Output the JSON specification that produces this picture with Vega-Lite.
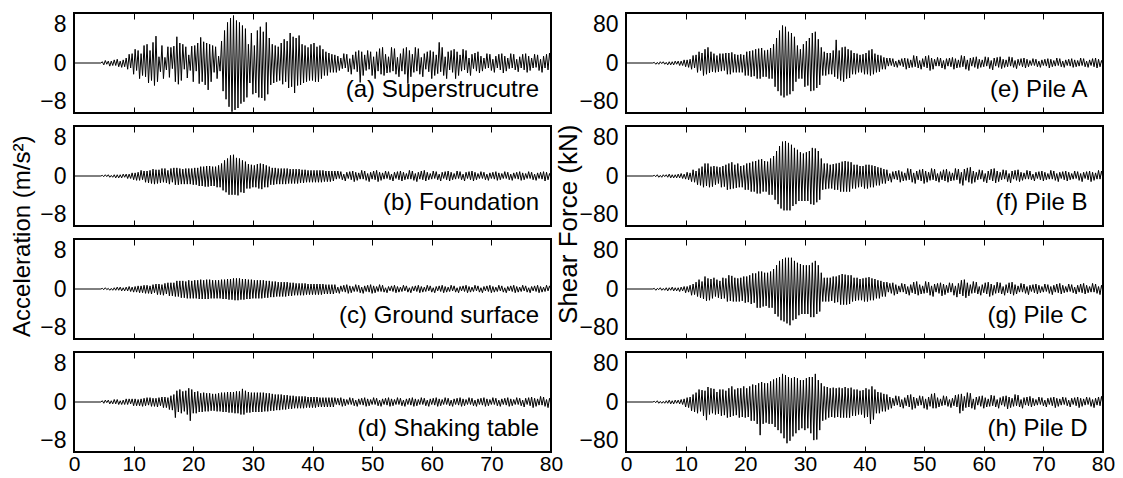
{
"$schema":"https://vega.github.io/schema/vega-lite/v6.json",
"background":"white",
"padding":{"left":10,"top":11,"right":5,"bottom":3},
"config":{
 "font":"Liberation Sans",
 "view":{"stroke":"black","strokeWidth":2},
 "axis":{"domain":false,"grid":false,"labelFont":"Liberation Sans","labelColor":"black","tickColor":"black","tickWidth":1},
 "axisX":{"tickSize":-6,"labelPadding":7,"labelFlush":false,"labelFontSize":21},
 "axisY":{"ticks":false,"labelPadding":8,"labelFlush":true,"labelFontSize":23,"minExtent":35,"maxExtent":35},
 "title":{"font":"Liberation Sans","fontSize":24,"fontWeight":"normal","color":"black"}
},
"datasets":{"sig":[
{"t":0,"a":0,"b":0,"c":0,"d":0,"e":0,"f":0,"g":0,"h":0},
{"t":4.5,"a":0,"b":0,"c":0,"d":0,"e":0,"f":0,"g":0,"h":0},
{"t":4.75,"a":0.2,"b":0.1,"c":0.1,"d":0.2,"e":1,"f":1,"g":1,"h":1},
{"t":5,"a":-0.3,"b":-0.1,"c":-0.1,"d":-0.2,"e":-2,"f":-1,"g":-2,"h":-1},
{"t":5.25,"a":0.4,"b":0.2,"c":0.2,"d":0.3,"e":1,"f":2,"g":1,"h":2},
{"t":5.5,"a":-0.2,"b":-0.1,"c":-0.1,"d":-0.1,"e":-2,"f":-2,"g":-1,"h":-2},
{"t":5.75,"a":0.3,"b":0.2,"c":0.1,"d":0.3,"e":2,"f":1,"g":2,"h":1},
{"t":6,"a":-0.5,"b":-0.2,"c":-0.2,"d":-0.3,"e":-1,"f":-2,"g":-2,"h":-2},
{"t":6.25,"a":0.3,"b":0.1,"c":0.1,"d":0.2,"e":2,"f":2,"g":1,"h":1},
{"t":6.5,"a":-0.4,"b":-0.2,"c":-0.2,"d":-0.3,"e":-2,"f":-1,"g":-2,"h":-2},
{"t":6.75,"a":0.5,"b":0.2,"c":0.2,"d":0.4,"e":1,"f":2,"g":2,"h":2},
{"t":7,"a":-0.4,"b":-0.3,"c":-0.2,"d":-0.3,"e":-3,"f":-2,"g":-3,"h":-2},
{"t":7.25,"a":0.6,"b":0.2,"c":0.3,"d":0.4,"e":2,"f":3,"g":2,"h":3},
{"t":7.5,"a":-0.6,"b":-0.3,"c":-0.2,"d":-0.4,"e":-3,"f":-3,"g":-2,"h":-3},
{"t":7.75,"a":0.3,"b":0.2,"c":0.3,"d":0.2,"e":2,"f":2,"g":3,"h":2},
{"t":8,"a":-0.7,"b":-0.3,"c":-0.3,"d":-0.4,"e":-3,"f":-3,"g":-3,"h":-3},
{"t":8.25,"a":0.5,"b":0.3,"c":0.2,"d":0.3,"e":3,"f":2,"g":2,"h":3},
{"t":8.5,"a":-0.6,"b":-0.2,"c":-0.3,"d":-0.4,"e":-2,"f":-3,"g":-3,"h":-2},
{"t":8.75,"a":0.8,"b":0.3,"c":0.3,"d":0.5,"e":3,"f":3,"g":2,"h":3},
{"t":9,"a":-1.0,"b":-0.4,"c":-0.3,"d":-0.4,"e":-4,"f":-3,"g":-4,"h":-3},
{"t":9.25,"a":1.4,"b":0.3,"c":0.4,"d":0.5,"e":3,"f":4,"g":3,"h":4},
{"t":9.5,"a":-0.8,"b":-0.4,"c":-0.4,"d":-0.3,"e":-4,"f":-4,"g":-3,"h":-4},
{"t":9.75,"a":1.5,"b":0.5,"c":0.3,"d":0.5,"e":5,"f":3,"g":4,"h":5},
{"t":10,"a":-1.8,"b":-0.6,"c":-0.5,"d":-0.6,"e":-6,"f":-5,"g":-6,"h":-8},
{"t":10.25,"a":2.2,"b":0.5,"c":0.4,"d":0.5,"e":5,"f":6,"g":4,"h":7},
{"t":10.5,"a":-1.2,"b":-0.7,"c":-0.5,"d":-0.6,"e":-7,"f":-6,"g":-5,"h":-9},
{"t":10.75,"a":2.0,"b":0.6,"c":0.5,"d":0.4,"e":6,"f":5,"g":6,"h":8},
{"t":11,"a":-2.5,"b":-0.7,"c":-0.6,"d":-0.6,"e":-10,"f":-9,"g":-10,"h":-14},
{"t":11.25,"a":1.5,"b":0.9,"c":0.5,"d":0.5,"e":12,"f":10,"g":8,"h":12},
{"t":11.5,"a":-2.0,"b":-0.6,"c":-0.6,"d":-0.7,"e":-8,"f":-10,"g":-9,"h":-16},
{"t":11.75,"a":2.8,"b":0.8,"c":0.6,"d":0.6,"e":13,"f":8,"g":11,"h":15},
{"t":12,"a":-2.2,"b":-1.0,"c":-0.7,"d":-0.6,"e":-15,"f":-14,"g":-12,"h":-18},
{"t":12.25,"a":3.0,"b":0.8,"c":0.6,"d":0.7,"e":18,"f":12,"g":15,"h":20},
{"t":12.5,"a":-3.2,"b":-1.1,"c":-0.7,"d":-0.5,"e":-12,"f":-15,"g":-14,"h":-15},
{"t":12.75,"a":2.0,"b":0.9,"c":0.5,"d":0.7,"e":16,"f":15,"g":12,"h":19},
{"t":13,"a":-2.8,"b":-1.2,"c":-0.8,"d":-0.7,"e":-20,"f":-18,"g":-16,"h":-22},
{"t":13.25,"a":3.3,"b":1.1,"c":0.7,"d":0.6,"e":22,"f":20,"g":20,"h":18},
{"t":13.5,"a":-3.6,"b":-1.3,"c":-0.6,"d":-0.7,"e":-18,"f":-16,"g":-19,"h":-29},
{"t":13.75,"a":4.3,"b":1.0,"c":0.8,"d":0.6,"e":25,"f":20,"g":17,"h":24},
{"t":14,"a":-3.0,"b":-1.2,"c":-0.9,"d":-0.8,"e":-16,"f":-18,"g":-18,"h":-20},
{"t":14.25,"a":1.0,"b":1.0,"c":0.8,"d":0.7,"e":18,"f":15,"g":16,"h":22},
{"t":14.5,"a":-1.4,"b":-1.1,"c":-0.9,"d":-0.6,"e":-14,"f":-17,"g":-15,"h":-18},
{"t":14.75,"a":2.8,"b":1.2,"c":0.7,"d":0.8,"e":15,"f":16,"g":18,"h":21},
{"t":15,"a":-2.5,"b":-1.0,"c":-1.0,"d":-0.9,"e":-15,"f":-14,"g":-12,"h":-20},
{"t":15.25,"a":0.9,"b":1.2,"c":0.9,"d":0.8,"e":12,"f":15,"g":15,"h":16},
{"t":15.5,"a":-1.1,"b":-1.1,"c":-0.8,"d":-0.9,"e":-14,"f":-12,"g":-14,"h":-19},
{"t":15.75,"a":2.6,"b":0.9,"c":1.0,"d":0.7,"e":15,"f":14,"g":13,"h":20},
{"t":16,"a":-2.3,"b":-1.3,"c":-1.1,"d":-1.2,"e":-13,"f":-18,"g":-16,"h":-22},
{"t":16.25,"a":2.5,"b":1.2,"c":1.0,"d":1.0,"e":15,"f":16,"g":18,"h":20},
{"t":16.5,"a":-0.9,"b":-1.0,"c":-1.1,"d":-1.3,"e":-12,"f":-17,"g":-15,"h":-21},
{"t":16.75,"a":2.7,"b":1.3,"c":1.0,"d":1.2,"e":16,"f":18,"g":17,"h":18},
{"t":17,"a":-3.0,"b":-1.4,"c":-1.2,"d":-2.5,"e":-18,"f":-22,"g":-20,"h":-25},
{"t":17.25,"a":4.2,"b":1.3,"c":1.3,"d":1.8,"e":16,"f":20,"g":22,"h":22},
{"t":17.5,"a":-3.4,"b":-1.4,"c":-1.2,"d":-1.6,"e":-18,"f":-21,"g":-19,"h":-24},
{"t":17.75,"a":3.2,"b":1.2,"c":1.3,"d":2.0,"e":17,"f":22,"g":21,"h":25},
{"t":18,"a":-2.8,"b":-1.3,"c":-1.4,"d":-1.8,"e":-15,"f":-20,"g":-20,"h":-22},
{"t":18.25,"a":3.0,"b":1.1,"c":1.3,"d":1.7,"e":14,"f":18,"g":18,"h":20},
{"t":18.5,"a":-1.0,"b":-1.3,"c":-1.4,"d":-1.5,"e":-15,"f":-19,"g":-20,"h":-21},
{"t":18.75,"a":2.6,"b":1.2,"c":1.2,"d":1.8,"e":13,"f":20,"g":17,"h":22},
{"t":19,"a":-2.4,"b":-1.3,"c":-1.5,"d":-2.0,"e":-15,"f":-18,"g":-20,"h":-25},
{"t":19.25,"a":1.3,"b":1.2,"c":1.4,"d":2.2,"e":14,"f":16,"g":18,"h":22},
{"t":19.5,"a":-1.2,"b":-1.3,"c":-1.5,"d":-3.0,"e":-15,"f":-18,"g":-19,"h":-24},
{"t":19.75,"a":2.7,"b":1.2,"c":1.3,"d":2.0,"e":13,"f":17,"g":20,"h":25},
{"t":20,"a":-3.0,"b":-1.4,"c":-1.5,"d":-1.8,"e":-20,"f":-22,"g":-22,"h":-25},
{"t":20.25,"a":2.8,"b":1.3,"c":1.4,"d":1.6,"e":18,"f":20,"g":20,"h":22},
{"t":20.5,"a":-1.3,"b":-1.4,"c":-1.5,"d":-1.8,"e":-20,"f":-22,"g":-21,"h":-24},
{"t":20.75,"a":3.2,"b":1.3,"c":1.4,"d":1.7,"e":19,"f":21,"g":22,"h":25},
{"t":21,"a":-3.3,"b":-1.6,"c":-1.6,"d":-1.6,"e":-22,"f":-25,"g":-24,"h":-30},
{"t":21.25,"a":4.1,"b":1.5,"c":1.5,"d":1.4,"e":20,"f":23,"g":25,"h":28},
{"t":21.5,"a":-3.0,"b":-1.6,"c":-1.6,"d":-1.6,"e":-21,"f":-25,"g":-22,"h":-30},
{"t":21.75,"a":3.4,"b":1.5,"c":1.4,"d":1.5,"e":22,"f":24,"g":25,"h":27},
{"t":22,"a":-3.5,"b":-1.7,"c":-1.6,"d":-1.5,"e":-25,"f":-28,"g":-30,"h":-35},
{"t":22.25,"a":3.2,"b":1.6,"c":1.5,"d":1.4,"e":23,"f":26,"g":28,"h":30},
{"t":22.5,"a":-4.3,"b":-1.7,"c":-1.6,"d":-1.5,"e":-25,"f":-28,"g":-30,"h":-53},
{"t":22.75,"a":3.0,"b":1.6,"c":1.5,"d":1.4,"e":24,"f":27,"g":28,"h":32},
{"t":23,"a":-3.0,"b":-1.6,"c":-1.5,"d":-1.4,"e":-22,"f":-25,"g":-28,"h":-35},
{"t":23.25,"a":2.8,"b":1.5,"c":1.4,"d":1.3,"e":20,"f":24,"g":26,"h":30},
{"t":23.5,"a":-1.5,"b":-1.6,"c":-1.5,"d":-1.4,"e":-22,"f":-25,"g":-27,"h":-33},
{"t":23.75,"a":2.6,"b":1.5,"c":1.4,"d":1.3,"e":21,"f":23,"g":26,"h":30},
{"t":24,"a":-2.5,"b":-1.8,"c":-1.5,"d":-1.5,"e":-25,"f":-30,"g":-30,"h":-35},
{"t":24.25,"a":1.1,"b":1.7,"c":1.4,"d":1.4,"e":24,"f":28,"g":28,"h":33},
{"t":24.5,"a":-1.3,"b":-1.8,"c":-1.5,"d":-1.5,"e":-25,"f":-30,"g":-30,"h":-35},
{"t":24.75,"a":3.5,"b":2.0,"c":1.5,"d":1.5,"e":30,"f":32,"g":32,"h":36},
{"t":25,"a":-4.5,"b":-2.3,"c":-1.6,"d":-1.6,"e":-38,"f":-38,"g":-40,"h":-40},
{"t":25.25,"a":5.2,"b":2.5,"c":1.5,"d":1.5,"e":40,"f":40,"g":38,"h":38},
{"t":25.5,"a":-5.8,"b":-2.6,"c":-1.6,"d":-1.6,"e":-45,"f":-45,"g":-44,"h":-45},
{"t":25.75,"a":6.5,"b":2.8,"c":1.6,"d":1.6,"e":52,"f":48,"g":45,"h":40},
{"t":26,"a":-7.0,"b":-3.0,"c":-1.7,"d":-1.7,"e":-52,"f":-52,"g":-50,"h":-50},
{"t":26.25,"a":7.2,"b":3.3,"c":1.6,"d":1.6,"e":60,"f":55,"g":48,"h":45},
{"t":26.5,"a":-7.8,"b":-3.0,"c":-1.7,"d":-1.7,"e":-55,"f":-55,"g":-52,"h":-58},
{"t":26.75,"a":7.6,"b":3.4,"c":1.7,"d":1.6,"e":58,"f":56,"g":50,"h":43},
{"t":27,"a":-7.5,"b":-3.0,"c":-1.8,"d":-1.8,"e":-52,"f":-55,"g":-55,"h":-66},
{"t":27.25,"a":6.8,"b":2.9,"c":1.7,"d":1.7,"e":50,"f":53,"g":50,"h":40},
{"t":27.5,"a":-7.2,"b":-3.1,"c":-1.8,"d":-1.8,"e":-50,"f":-55,"g":-58,"h":-62},
{"t":27.75,"a":6.5,"b":2.8,"c":1.7,"d":1.7,"e":48,"f":50,"g":50,"h":38},
{"t":28,"a":-6.5,"b":-2.6,"c":-1.7,"d":-2.0,"e":-45,"f":-48,"g":-50,"h":-55},
{"t":28.25,"a":6.0,"b":2.5,"c":1.6,"d":2.1,"e":42,"f":45,"g":45,"h":40},
{"t":28.5,"a":-6.2,"b":-2.7,"c":-1.7,"d":-2.0,"e":-30,"f":-45,"g":-48,"h":-50},
{"t":28.75,"a":5.5,"b":2.3,"c":1.6,"d":1.8,"e":28,"f":42,"g":42,"h":38},
{"t":29,"a":-5.5,"b":-2.0,"c":-1.6,"d":-1.7,"e":-25,"f":-40,"g":-42,"h":-45},
{"t":29.25,"a":3.0,"b":1.9,"c":1.5,"d":1.6,"e":22,"f":38,"g":40,"h":35},
{"t":29.5,"a":-3.2,"b":-2.0,"c":-1.6,"d":-1.7,"e":-25,"f":-40,"g":-40,"h":-42},
{"t":29.75,"a":4.8,"b":1.8,"c":1.5,"d":1.5,"e":30,"f":36,"g":38,"h":35},
{"t":30,"a":-5.0,"b":-1.8,"c":-1.5,"d":-1.6,"e":-38,"f":-40,"g":-40,"h":-45},
{"t":30.25,"a":2.8,"b":1.7,"c":1.4,"d":1.5,"e":35,"f":38,"g":38,"h":38},
{"t":30.5,"a":-4.8,"b":-1.8,"c":-1.5,"d":-1.6,"e":-36,"f":-40,"g":-40,"h":-42},
{"t":30.75,"a":5.2,"b":1.9,"c":1.4,"d":1.5,"e":40,"f":40,"g":38,"h":40},
{"t":31,"a":-5.5,"b":-2.0,"c":-1.5,"d":-1.6,"e":-45,"f":-45,"g":-45,"h":-50},
{"t":31.25,"a":5.8,"b":2.0,"c":1.4,"d":1.5,"e":48,"f":45,"g":42,"h":40},
{"t":31.5,"a":-5.6,"b":-2.1,"c":-1.5,"d":-1.6,"e":-44,"f":-46,"g":-45,"h":-61},
{"t":31.75,"a":5.0,"b":1.9,"c":1.4,"d":1.5,"e":50,"f":44,"g":45,"h":45},
{"t":32,"a":-6.0,"b":-1.8,"c":-1.4,"d":-1.5,"e":-40,"f":-42,"g":-40,"h":-60},
{"t":32.25,"a":6.5,"b":1.7,"c":1.3,"d":1.4,"e":38,"f":40,"g":38,"h":35},
{"t":32.5,"a":-5.0,"b":-1.8,"c":-1.4,"d":-1.5,"e":-35,"f":-38,"g":-36,"h":-45},
{"t":32.75,"a":4.0,"b":1.5,"c":1.3,"d":1.4,"e":25,"f":28,"g":26,"h":30},
{"t":33,"a":-3.5,"b":-1.4,"c":-1.3,"d":-1.4,"e":-20,"f":-22,"g":-20,"h":-30},
{"t":33.25,"a":3.0,"b":1.3,"c":1.2,"d":1.3,"e":18,"f":20,"g":18,"h":25},
{"t":33.5,"a":-3.2,"b":-1.4,"c":-1.3,"d":-1.4,"e":-20,"f":-21,"g":-20,"h":-28},
{"t":33.75,"a":2.8,"b":1.3,"c":1.2,"d":1.2,"e":16,"f":20,"g":18,"h":24},
{"t":34,"a":-3.0,"b":-1.3,"c":-1.2,"d":-1.3,"e":-18,"f":-20,"g":-20,"h":-25},
{"t":34.25,"a":2.6,"b":1.2,"c":1.1,"d":1.2,"e":16,"f":18,"g":18,"h":22},
{"t":34.5,"a":-2.8,"b":-1.3,"c":-1.2,"d":-1.3,"e":-18,"f":-20,"g":-19,"h":-24},
{"t":34.75,"a":3.2,"b":1.2,"c":1.1,"d":1.2,"e":20,"f":19,"g":20,"h":23},
{"t":35,"a":-3.4,"b":-1.3,"c":-1.2,"d":-1.2,"e":-22,"f":-22,"g":-22,"h":-25},
{"t":35.25,"a":3.8,"b":1.2,"c":1.1,"d":1.1,"e":37,"f":20,"g":20,"h":22},
{"t":35.5,"a":-3.0,"b":-1.3,"c":-1.2,"d":-1.2,"e":-25,"f":-22,"g":-21,"h":-24},
{"t":35.75,"a":3.5,"b":1.2,"c":1.1,"d":1.1,"e":20,"f":21,"g":22,"h":23},
{"t":36,"a":-4.0,"b":-1.2,"c":-1.1,"d":-1.1,"e":-28,"f":-25,"g":-25,"h":-25},
{"t":36.25,"a":4.8,"b":1.1,"c":1.0,"d":1.0,"e":25,"f":23,"g":24,"h":22},
{"t":36.5,"a":-3.8,"b":-1.2,"c":-1.1,"d":-1.1,"e":-30,"f":-25,"g":-25,"h":-25},
{"t":36.75,"a":4.2,"b":1.1,"c":1.0,"d":1.0,"e":26,"f":24,"g":23,"h":24},
{"t":37,"a":-4.8,"b":-1.2,"c":-1.0,"d":-1.0,"e":-25,"f":-25,"g":-25,"h":-25},
{"t":37.25,"a":4.0,"b":1.1,"c":0.9,"d":0.9,"e":22,"f":23,"g":22,"h":22},
{"t":37.5,"a":-3.6,"b":-1.2,"c":-1.0,"d":-1.0,"e":-24,"f":-25,"g":-24,"h":-25},
{"t":37.75,"a":4.4,"b":1.1,"c":0.9,"d":0.9,"e":20,"f":22,"g":22,"h":23},
{"t":38,"a":-3.5,"b":-1.1,"c":-1.0,"d":-1.0,"e":-18,"f":-20,"g":-20,"h":-22},
{"t":38.25,"a":3.0,"b":1.0,"c":0.9,"d":0.9,"e":16,"f":18,"g":18,"h":20},
{"t":38.5,"a":-3.2,"b":-1.1,"c":-1.0,"d":-1.0,"e":-18,"f":-20,"g":-19,"h":-22},
{"t":38.75,"a":2.8,"b":1.0,"c":0.9,"d":0.9,"e":15,"f":18,"g":18,"h":20},
{"t":39,"a":-3.0,"b":-1.0,"c":-0.9,"d":-0.9,"e":-15,"f":-18,"g":-18,"h":-20},
{"t":39.25,"a":2.5,"b":0.9,"c":0.8,"d":0.8,"e":13,"f":16,"g":16,"h":18},
{"t":39.5,"a":-2.8,"b":-1.0,"c":-0.9,"d":-0.9,"e":-15,"f":-17,"g":-18,"h":-20},
{"t":39.75,"a":3.0,"b":0.9,"c":0.8,"d":0.8,"e":14,"f":16,"g":17,"h":19},
{"t":40,"a":-2.8,"b":-1.0,"c":-0.9,"d":-0.9,"e":-18,"f":-20,"g":-20,"h":-25},
{"t":40.25,"a":3.2,"b":0.9,"c":0.8,"d":0.8,"e":16,"f":18,"g":18,"h":22},
{"t":40.5,"a":-3.0,"b":-1.0,"c":-0.9,"d":-0.9,"e":-18,"f":-20,"g":-20,"h":-24},
{"t":40.75,"a":2.6,"b":0.9,"c":0.8,"d":0.8,"e":20,"f":18,"g":19,"h":20},
{"t":41,"a":-3.0,"b":-1.0,"c":-0.9,"d":-0.8,"e":-20,"f":-18,"g":-18,"h":-35},
{"t":41.25,"a":2.8,"b":0.9,"c":0.8,"d":0.7,"e":22,"f":17,"g":17,"h":25},
{"t":41.5,"a":-2.5,"b":-1.0,"c":-0.9,"d":-0.8,"e":-18,"f":-18,"g":-18,"h":-28},
{"t":41.75,"a":2.2,"b":0.9,"c":0.8,"d":0.7,"e":15,"f":16,"g":16,"h":20},
{"t":42,"a":-2.0,"b":-0.9,"c":-0.8,"d":-0.8,"e":-15,"f":-15,"g":-15,"h":-18},
{"t":42.25,"a":1.8,"b":0.8,"c":0.7,"d":0.7,"e":13,"f":14,"g":14,"h":16},
{"t":42.5,"a":-2.0,"b":-0.9,"c":-0.8,"d":-0.8,"e":-14,"f":-15,"g":-15,"h":-18},
{"t":42.75,"a":1.6,"b":0.8,"c":0.7,"d":0.7,"e":12,"f":13,"g":13,"h":15},
{"t":43,"a":-1.5,"b":-0.9,"c":-0.8,"d":-0.8,"e":-10,"f":-12,"g":-12,"h":-15},
{"t":43.25,"a":1.4,"b":0.8,"c":0.7,"d":0.7,"e":9,"f":11,"g":11,"h":13},
{"t":43.5,"a":-1.5,"b":-0.8,"c":-0.8,"d":-0.8,"e":-10,"f":-12,"g":-12,"h":-15},
{"t":43.75,"a":1.3,"b":0.8,"c":0.7,"d":0.7,"e":8,"f":10,"g":11,"h":12},
{"t":44,"a":-1.5,"b":-0.5,"c":-0.6,"d":-0.4,"e":-5,"f":-8,"g":-5,"h":-12},
{"t":44.25,"a":1.1,"b":0.8,"c":0.3,"d":0.6,"e":8,"f":4,"g":9,"h":8},
{"t":44.5,"a":-1.2,"b":-0.4,"c":-0.7,"d":-0.5,"e":-4,"f":-10,"g":-7,"h":-10},
{"t":44.75,"a":0.8,"b":0.7,"c":0.5,"d":0.7,"e":7,"f":7,"g":10,"h":6},
{"t":45,"a":-0.9,"b":-0.6,"c":-0.4,"d":-0.7,"e":-6,"f":-5,"g":-10,"h":-6},
{"t":45.25,"a":1.5,"b":0.3,"c":0.6,"d":0.5,"e":3,"f":8,"g":7,"h":10},
{"t":45.5,"a":-0.8,"b":-0.8,"c":-0.5,"d":-0.6,"e":-7,"f":-6,"g":-8,"h":-5},
{"t":45.75,"a":1.4,"b":0.6,"c":0.7,"d":0.4,"e":5,"f":9,"g":5,"h":9},
{"t":46,"a":-1.4,"b":-0.4,"c":-0.7,"d":-0.4,"e":-4,"f":-10,"g":-5,"h":-8},
{"t":46.25,"a":0.7,"b":0.7,"c":0.5,"d":0.7,"e":7,"f":7,"g":9,"h":4},
{"t":46.5,"a":-1.8,"b":-0.6,"c":-0.6,"d":-0.4,"e":-6,"f":-8,"g":-5,"h":-10},
{"t":46.75,"a":1.3,"b":0.8,"c":0.4,"d":0.6,"e":8,"f":5,"g":8,"h":7},
{"t":47,"a":-1.0,"b":-0.9,"c":-0.4,"d":-0.6,"e":-10,"f":-7,"g":-8,"h":-6},
{"t":47.25,"a":1.8,"b":0.6,"c":0.7,"d":0.3,"e":7,"f":12,"g":4,"h":11},
{"t":47.5,"a":-1.4,"b":-0.7,"c":-0.4,"d":-0.7,"e":-8,"f":-6,"g":-10,"h":-8},
{"t":47.75,"a":2.0,"b":0.5,"c":0.6,"d":0.5,"e":5,"f":11,"g":7,"h":12},
{"t":48,"a":-3.1,"b":-0.5,"c":-0.6,"d":-0.4,"e":-7,"f":-10,"g":-6,"h":-12},
{"t":48.25,"a":1.8,"b":0.9,"c":0.3,"d":0.6,"e":12,"f":5,"g":11,"h":8},
{"t":48.5,"a":-2.0,"b":-0.5,"c":-0.7,"d":-0.5,"e":-6,"f":-12,"g":-8,"h":-10},
{"t":48.75,"a":1.3,"b":0.8,"c":0.5,"d":0.7,"e":11,"f":8,"g":12,"h":6},
{"t":49,"a":-1.2,"b":-0.7,"c":-0.4,"d":-0.7,"e":-8,"f":-6,"g":-10,"h":-6},
{"t":49.25,"a":2.0,"b":0.4,"c":0.6,"d":0.5,"e":4,"f":10,"g":7,"h":10},
{"t":49.5,"a":-1.0,"b":-0.9,"c":-0.5,"d":-0.6,"e":-10,"f":-8,"g":-8,"h":-5},
{"t":49.75,"a":1.8,"b":0.6,"c":0.7,"d":0.4,"e":7,"f":11,"g":5,"h":9},
{"t":50,"a":-2.0,"b":-0.5,"c":-0.7,"d":-0.4,"e":-6,"f":-12,"g":-7,"h":-10},
{"t":50.25,"a":1.0,"b":0.8,"c":0.5,"d":0.7,"e":11,"f":8,"g":12,"h":5},
{"t":50.5,"a":-2.5,"b":-0.6,"c":-0.6,"d":-0.4,"e":-8,"f":-10,"g":-6,"h":-12},
{"t":50.75,"a":1.8,"b":0.9,"c":0.4,"d":0.6,"e":12,"f":6,"g":11,"h":8},
{"t":51,"a":-1.3,"b":-0.9,"c":-0.4,"d":-0.6,"e":-12,"f":-7,"g":-10,"h":-7},
{"t":51.25,"a":2.3,"b":0.6,"c":0.7,"d":0.3,"e":8,"f":12,"g":5,"h":13},
{"t":51.5,"a":-1.8,"b":-0.7,"c":-0.4,"d":-0.7,"e":-10,"f":-6,"g":-12,"h":-10},
{"t":51.75,"a":2.5,"b":0.5,"c":0.6,"d":0.5,"e":6,"f":11,"g":8,"h":14},
{"t":52,"a":-2.0,"b":-0.5,"c":-0.5,"d":-0.4,"e":-5,"f":-8,"g":-5,"h":-10},
{"t":52.25,"a":1.4,"b":0.8,"c":0.2,"d":0.6,"e":9,"f":4,"g":9,"h":7},
{"t":52.5,"a":-1.6,"b":-0.4,"c":-0.6,"d":-0.5,"e":-5,"f":-10,"g":-7,"h":-8},
{"t":52.75,"a":1.0,"b":0.7,"c":0.4,"d":0.7,"e":8,"f":7,"g":10,"h":5},
{"t":53,"a":-1.5,"b":-0.6,"c":-0.3,"d":-0.7,"e":-8,"f":-6,"g":-11,"h":-6},
{"t":53.25,"a":2.5,"b":0.3,"c":0.5,"d":0.5,"e":4,"f":10,"g":8,"h":10},
{"t":53.5,"a":-1.3,"b":-0.8,"c":-0.4,"d":-0.6,"e":-10,"f":-8,"g":-9,"h":-5},
{"t":53.75,"a":2.3,"b":0.6,"c":0.6,"d":0.4,"e":7,"f":11,"g":6,"h":9},
{"t":54,"a":-1.8,"b":-0.4,"c":-0.6,"d":-0.4,"e":-5,"f":-10,"g":-6,"h":-7},
{"t":54.25,"a":0.9,"b":0.7,"c":0.4,"d":0.7,"e":8,"f":7,"g":10,"h":4},
{"t":54.5,"a":-2.2,"b":-0.6,"c":-0.5,"d":-0.4,"e":-6,"f":-8,"g":-5,"h":-9},
{"t":54.75,"a":1.5,"b":0.8,"c":0.3,"d":0.6,"e":9,"f":5,"g":9,"h":6},
{"t":55,"a":-1.3,"b":-0.8,"c":-0.4,"d":-0.6,"e":-10,"f":-7,"g":-10,"h":-6},
{"t":55.25,"a":2.3,"b":0.6,"c":0.6,"d":0.3,"e":7,"f":12,"g":5,"h":11},
{"t":55.5,"a":-1.8,"b":-0.6,"c":-0.3,"d":-0.7,"e":-8,"f":-6,"g":-13,"h":-8},
{"t":55.75,"a":2.5,"b":0.4,"c":0.5,"d":0.5,"e":5,"f":11,"g":9,"h":12},
{"t":56,"a":-3.3,"b":-0.5,"c":-0.5,"d":-0.4,"e":-7,"f":-12,"g":-8,"h":-18},
{"t":56.25,"a":2.0,"b":0.9,"c":0.2,"d":0.6,"e":12,"f":6,"g":14,"h":13},
{"t":56.5,"a":-2.2,"b":-0.5,"c":-0.6,"d":-0.5,"e":-6,"f":-15,"g":-11,"h":-14},
{"t":56.75,"a":1.4,"b":0.8,"c":0.4,"d":0.7,"e":11,"f":11,"g":15,"h":9},
{"t":57,"a":-1.5,"b":-0.7,"c":-0.3,"d":-0.7,"e":-10,"f":-7,"g":-14,"h":-9},
{"t":57.25,"a":2.5,"b":0.4,"c":0.5,"d":0.5,"e":5,"f":13,"g":10,"h":15},
{"t":57.5,"a":-1.3,"b":-0.9,"c":-0.4,"d":-0.6,"e":-12,"f":-10,"g":-11,"h":-8},
{"t":57.75,"a":2.3,"b":0.6,"c":0.6,"d":0.4,"e":8,"f":14,"g":7,"h":14},
{"t":58,"a":-1.8,"b":-0.5,"c":-0.6,"d":-0.4,"e":-5,"f":-12,"g":-7,"h":-10},
{"t":58.25,"a":0.9,"b":0.8,"c":0.4,"d":0.7,"e":9,"f":8,"g":12,"h":5},
{"t":58.5,"a":-2.2,"b":-0.6,"c":-0.5,"d":-0.4,"e":-7,"f":-10,"g":-6,"h":-12},
{"t":58.75,"a":1.5,"b":0.9,"c":0.3,"d":0.6,"e":10,"f":6,"g":11,"h":8},
{"t":59,"a":-1.0,"b":-0.8,"c":-0.4,"d":-0.6,"e":-9,"f":-6,"g":-8,"h":-5},
{"t":59.25,"a":1.8,"b":0.6,"c":0.6,"d":0.3,"e":6,"f":10,"g":4,"h":9},
{"t":59.5,"a":-1.4,"b":-0.6,"c":-0.3,"d":-0.7,"e":-7,"f":-5,"g":-10,"h":-7},
{"t":59.75,"a":2.0,"b":0.4,"c":0.5,"d":0.5,"e":5,"f":9,"g":7,"h":10},
{"t":60,"a":-2.5,"b":-0.5,"c":-0.5,"d":-0.4,"e":-6,"f":-9,"g":-6,"h":-10},
{"t":60.25,"a":1.8,"b":0.8,"c":0.2,"d":0.6,"e":10,"f":4,"g":10,"h":7},
{"t":60.5,"a":-2.0,"b":-0.4,"c":-0.6,"d":-0.5,"e":-5,"f":-11,"g":-8,"h":-8},
{"t":60.75,"a":1.3,"b":0.7,"c":0.4,"d":0.7,"e":9,"f":8,"g":11,"h":5},
{"t":61,"a":-1.7,"b":-0.6,"c":-0.3,"d":-0.7,"e":-9,"f":-6,"g":-12,"h":-7},
{"t":61.25,"a":3.3,"b":0.3,"c":0.5,"d":0.5,"e":4,"f":11,"g":8,"h":11},
{"t":61.5,"a":-1.4,"b":-0.8,"c":-0.4,"d":-0.6,"e":-11,"f":-8,"g":-10,"h":-6},
{"t":61.75,"a":2.5,"b":0.6,"c":0.6,"d":0.4,"e":8,"f":12,"g":6,"h":10},
{"t":62,"a":-2.0,"b":-0.4,"c":-0.6,"d":-0.4,"e":-5,"f":-11,"g":-7,"h":-8},
{"t":62.25,"a":1.0,"b":0.7,"c":0.4,"d":0.7,"e":9,"f":8,"g":11,"h":4},
{"t":62.5,"a":-2.5,"b":-0.6,"c":-0.5,"d":-0.4,"e":-7,"f":-9,"g":-6,"h":-10},
{"t":62.75,"a":1.8,"b":0.8,"c":0.3,"d":0.6,"e":10,"f":6,"g":10,"h":7},
{"t":63,"a":-1.1,"b":-0.8,"c":-0.4,"d":-0.6,"e":-9,"f":-6,"g":-8,"h":-5},
{"t":63.25,"a":2.0,"b":0.6,"c":0.6,"d":0.3,"e":6,"f":10,"g":4,"h":9},
{"t":63.5,"a":-1.5,"b":-0.6,"c":-0.3,"d":-0.7,"e":-7,"f":-5,"g":-10,"h":-7},
{"t":63.75,"a":2.2,"b":0.4,"c":0.5,"d":0.5,"e":5,"f":9,"g":7,"h":10},
{"t":64,"a":-2.5,"b":-0.5,"c":-0.5,"d":-0.4,"e":-6,"f":-9,"g":-6,"h":-11},
{"t":64.25,"a":1.8,"b":0.8,"c":0.2,"d":0.6,"e":10,"f":4,"g":10,"h":8},
{"t":64.5,"a":-2.0,"b":-0.4,"c":-0.6,"d":-0.5,"e":-5,"f":-11,"g":-8,"h":-9},
{"t":64.75,"a":1.3,"b":0.7,"c":0.4,"d":0.7,"e":9,"f":8,"g":11,"h":6},
{"t":65,"a":-1.3,"b":-0.6,"c":-0.3,"d":-0.7,"e":-7,"f":-5,"g":-10,"h":-7},
{"t":65.25,"a":2.2,"b":0.3,"c":0.5,"d":0.5,"e":4,"f":9,"g":7,"h":12},
{"t":65.5,"a":-1.1,"b":-0.8,"c":-0.4,"d":-0.6,"e":-9,"f":-7,"g":-8,"h":-6},
{"t":65.75,"a":2.0,"b":0.6,"c":0.6,"d":0.4,"e":6,"f":10,"g":5,"h":11},
{"t":66,"a":-1.6,"b":-0.4,"c":-0.6,"d":-0.4,"e":-4,"f":-9,"g":-5,"h":-8},
{"t":66.25,"a":0.8,"b":0.7,"c":0.4,"d":0.7,"e":7,"f":6,"g":9,"h":4},
{"t":66.5,"a":-2.0,"b":-0.6,"c":-0.5,"d":-0.4,"e":-6,"f":-7,"g":-5,"h":-10},
{"t":66.75,"a":1.4,"b":0.8,"c":0.3,"d":0.6,"e":8,"f":5,"g":8,"h":7},
{"t":67,"a":-0.9,"b":-0.8,"c":-0.4,"d":-0.6,"e":-8,"f":-5,"g":-7,"h":-5},
{"t":67.25,"a":1.6,"b":0.6,"c":0.6,"d":0.3,"e":6,"f":9,"g":4,"h":8},
{"t":67.5,"a":-1.3,"b":-0.6,"c":-0.3,"d":-0.7,"e":-6,"f":-5,"g":-9,"h":-6},
{"t":67.75,"a":1.8,"b":0.4,"c":0.5,"d":0.5,"e":4,"f":8,"g":6,"h":9},
{"t":68,"a":-1.6,"b":-0.4,"c":-0.5,"d":-0.4,"e":-4,"f":-6,"g":-4,"h":-8},
{"t":68.25,"a":1.1,"b":0.7,"c":0.2,"d":0.6,"e":7,"f":3,"g":7,"h":6},
{"t":68.5,"a":-1.3,"b":-0.4,"c":-0.6,"d":-0.5,"e":-4,"f":-8,"g":-6,"h":-6},
{"t":68.75,"a":0.8,"b":0.6,"c":0.4,"d":0.7,"e":6,"f":6,"g":8,"h":4},
{"t":69,"a":-0.9,"b":-0.6,"c":-0.3,"d":-0.7,"e":-6,"f":-4,"g":-8,"h":-5},
{"t":69.25,"a":1.5,"b":0.3,"c":0.5,"d":0.5,"e":3,"f":7,"g":6,"h":8},
{"t":69.5,"a":-0.8,"b":-0.7,"c":-0.4,"d":-0.6,"e":-7,"f":-6,"g":-6,"h":-4},
{"t":69.75,"a":1.4,"b":0.5,"c":0.6,"d":0.4,"e":5,"f":8,"g":4,"h":7},
{"t":70,"a":-1.2,"b":-0.4,"c":-0.6,"d":-0.4,"e":-4,"f":-8,"g":-5,"h":-6},
{"t":70.25,"a":0.6,"b":0.6,"c":0.4,"d":0.7,"e":6,"f":6,"g":8,"h":3},
{"t":70.5,"a":-1.5,"b":-0.5,"c":-0.5,"d":-0.4,"e":-5,"f":-6,"g":-4,"h":-8},
{"t":70.75,"a":1.1,"b":0.7,"c":0.3,"d":0.6,"e":7,"f":4,"g":7,"h":6},
{"t":71,"a":-0.8,"b":-0.7,"c":-0.4,"d":-0.6,"e":-8,"f":-5,"g":-7,"h":-4},
{"t":71.25,"a":1.4,"b":0.5,"c":0.6,"d":0.3,"e":6,"f":9,"g":4,"h":7},
{"t":71.5,"a":-1.1,"b":-0.6,"c":-0.3,"d":-0.7,"e":-6,"f":-5,"g":-9,"h":-6},
{"t":71.75,"a":1.5,"b":0.4,"c":0.5,"d":0.5,"e":4,"f":8,"g":6,"h":8},
{"t":72,"a":-1.6,"b":-0.4,"c":-0.5,"d":-0.4,"e":-5,"f":-7,"g":-5,"h":-9},
{"t":72.25,"a":1.1,"b":0.7,"c":0.2,"d":0.6,"e":8,"f":4,"g":8,"h":6},
{"t":72.5,"a":-1.3,"b":-0.4,"c":-0.6,"d":-0.5,"e":-4,"f":-9,"g":-6,"h":-7},
{"t":72.75,"a":0.8,"b":0.6,"c":0.4,"d":0.7,"e":7,"f":6,"g":9,"h":5},
{"t":73,"a":-0.9,"b":-0.6,"c":-0.3,"d":-0.7,"e":-6,"f":-4,"g":-8,"h":-5},
{"t":73.25,"a":1.5,"b":0.3,"c":0.5,"d":0.5,"e":3,"f":7,"g":6,"h":8},
{"t":73.5,"a":-0.8,"b":-0.7,"c":-0.4,"d":-0.6,"e":-7,"f":-6,"g":-6,"h":-4},
{"t":73.75,"a":1.4,"b":0.5,"c":0.6,"d":0.4,"e":5,"f":8,"g":4,"h":7},
{"t":74,"a":-1.1,"b":-0.4,"c":-0.6,"d":-0.4,"e":-4,"f":-8,"g":-5,"h":-6},
{"t":74.25,"a":0.6,"b":0.6,"c":0.4,"d":0.7,"e":6,"f":6,"g":8,"h":3},
{"t":74.5,"a":-1.4,"b":-0.5,"c":-0.5,"d":-0.4,"e":-5,"f":-6,"g":-4,"h":-8},
{"t":74.75,"a":1.0,"b":0.7,"c":0.3,"d":0.6,"e":7,"f":4,"g":7,"h":6},
{"t":75,"a":-0.8,"b":-0.7,"c":-0.4,"d":-0.6,"e":-7,"f":-5,"g":-6,"h":-4},
{"t":75.25,"a":1.4,"b":0.5,"c":0.6,"d":0.3,"e":5,"f":8,"g":3,"h":7},
{"t":75.5,"a":-1.1,"b":-0.6,"c":-0.3,"d":-0.8,"e":-6,"f":-4,"g":-8,"h":-6},
{"t":75.75,"a":1.5,"b":0.4,"c":0.5,"d":0.6,"e":4,"f":7,"g":6,"h":8},
{"t":76,"a":-1.5,"b":-0.4,"c":-0.5,"d":-0.4,"e":-5,"f":-7,"g":-5,"h":-9},
{"t":76.25,"a":1.1,"b":0.7,"c":0.2,"d":0.7,"e":8,"f":4,"g":8,"h":6},
{"t":76.5,"a":-1.2,"b":-0.4,"c":-0.6,"d":-0.6,"e":-4,"f":-9,"g":-6,"h":-7},
{"t":76.75,"a":0.8,"b":0.6,"c":0.4,"d":0.8,"e":7,"f":6,"g":9,"h":5},
{"t":77,"a":-0.8,"b":-0.6,"c":-0.3,"d":-0.9,"e":-6,"f":-4,"g":-8,"h":-5},
{"t":77.25,"a":1.4,"b":0.3,"c":0.5,"d":0.6,"e":3,"f":7,"g":6,"h":8},
{"t":77.5,"a":-0.7,"b":-0.7,"c":-0.4,"d":-0.7,"e":-7,"f":-6,"g":-6,"h":-4},
{"t":77.75,"a":1.3,"b":0.5,"c":0.6,"d":0.5,"e":5,"f":8,"g":4,"h":7},
{"t":78,"a":-1.2,"b":-0.4,"c":-0.6,"d":-0.5,"e":-4,"f":-9,"g":-5,"h":-7},
{"t":78.25,"a":0.6,"b":0.6,"c":0.4,"d":0.9,"e":7,"f":6,"g":9,"h":4},
{"t":78.5,"a":-1.5,"b":-0.5,"c":-0.5,"d":-0.5,"e":-6,"f":-7,"g":-5,"h":-9},
{"t":78.75,"a":1.1,"b":0.7,"c":0.3,"d":0.8,"e":8,"f":5,"g":8,"h":6},
{"t":79,"a":-0.8,"b":-0.8,"c":-0.4,"d":-0.7,"e":-8,"f":-5,"g":-7,"h":-5},
{"t":79.25,"a":1.4,"b":0.6,"c":0.6,"d":0.4,"e":6,"f":9,"g":4,"h":8},
{"t":79.5,"a":-1.1,"b":-0.6,"c":-0.3,"d":-0.9,"e":-6,"f":-5,"g":-9,"h":-6},
{"t":79.75,"a":1.6,"b":0.4,"c":0.5,"d":0.6,"e":4,"f":8,"g":6,"h":9},
{"t":80,"a":-0.5,"b":-0.3,"c":-0.2,"d":-0.4,"e":-3,"f":-4,"g":-4,"h":-4}
]},
"hconcat":[
{"title":{"text":"Acceleration (m/s²)","orient":"left","anchor":"middle","offset":3,"dx":7},
 "spacing":9,
 "vconcat":[
  {"width":477,"height":100,"layer":[
   {"data":{"name":"sig"},"mark":{"type":"line","color":"black","strokeWidth":1,"clip":true},
    "encoding":{"x":{"field":"t","type":"quantitative","scale":{"domain":[0,80],"nice":false},"axis":{"orient":"bottom","values":[0,10,20,30,40,50,60,70,80],"labels":false,"title":null}},
     "y":{"field":"a","type":"quantitative","scale":{"domain":[-8,8],"nice":false},"axis":{"values":[-8,0,8],"title":null}}}},
   {"data":{"values":[{"x":78.0,"y":-5.4,"s":"(a) Superstrucutre"}]},"mark":{"type":"text","align":"right","baseline":"alphabetic","fontSize":24,"color":"black"},
    "encoding":{"x":{"field":"x","type":"quantitative","scale":{"domain":[0,80],"nice":false},"axis":{"orient":"top","values":[0,10,20,30,40,50,60,70,80],"labels":false,"title":null}},
     "y":{"field":"y","type":"quantitative","scale":{"domain":[-8,8],"nice":false},"axis":{"values":[-8,0,8],"title":null}},
     "text":{"field":"s"}}}
  ],"resolve":{"axis":{"x":"independent"}}},
  {"width":477,"height":100,"layer":[
   {"data":{"name":"sig"},"mark":{"type":"line","color":"black","strokeWidth":1,"clip":true},
    "encoding":{"x":{"field":"t","type":"quantitative","scale":{"domain":[0,80],"nice":false},"axis":{"orient":"bottom","values":[0,10,20,30,40,50,60,70,80],"labels":false,"title":null}},
     "y":{"field":"b","type":"quantitative","scale":{"domain":[-8,8],"nice":false},"axis":{"values":[-8,0,8],"title":null}}}},
   {"data":{"values":[{"x":78.0,"y":-5.4,"s":"(b) Foundation"}]},"mark":{"type":"text","align":"right","baseline":"alphabetic","fontSize":24,"color":"black"},
    "encoding":{"x":{"field":"x","type":"quantitative","scale":{"domain":[0,80],"nice":false},"axis":{"orient":"top","values":[0,10,20,30,40,50,60,70,80],"labels":false,"title":null}},
     "y":{"field":"y","type":"quantitative","scale":{"domain":[-8,8],"nice":false},"axis":{"values":[-8,0,8],"title":null}},
     "text":{"field":"s"}}}
  ],"resolve":{"axis":{"x":"independent"}}},
  {"width":477,"height":100,"layer":[
   {"data":{"name":"sig"},"mark":{"type":"line","color":"black","strokeWidth":1,"clip":true},
    "encoding":{"x":{"field":"t","type":"quantitative","scale":{"domain":[0,80],"nice":false},"axis":{"orient":"bottom","values":[0,10,20,30,40,50,60,70,80],"labels":false,"title":null}},
     "y":{"field":"c","type":"quantitative","scale":{"domain":[-8,8],"nice":false},"axis":{"values":[-8,0,8],"title":null}}}},
   {"data":{"values":[{"x":78.0,"y":-5.4,"s":"(c) Ground surface"}]},"mark":{"type":"text","align":"right","baseline":"alphabetic","fontSize":24,"color":"black"},
    "encoding":{"x":{"field":"x","type":"quantitative","scale":{"domain":[0,80],"nice":false},"axis":{"orient":"top","values":[0,10,20,30,40,50,60,70,80],"labels":false,"title":null}},
     "y":{"field":"y","type":"quantitative","scale":{"domain":[-8,8],"nice":false},"axis":{"values":[-8,0,8],"title":null}},
     "text":{"field":"s"}}}
  ],"resolve":{"axis":{"x":"independent"}}},
  {"width":477,"height":100,"layer":[
   {"data":{"name":"sig"},"mark":{"type":"line","color":"black","strokeWidth":1,"clip":true},
    "encoding":{"x":{"field":"t","type":"quantitative","scale":{"domain":[0,80],"nice":false},"axis":{"orient":"bottom","values":[0,10,20,30,40,50,60,70,80],"labels":true,"title":null}},
     "y":{"field":"d","type":"quantitative","scale":{"domain":[-8,8],"nice":false},"axis":{"values":[-8,0,8],"title":null}}}},
   {"data":{"values":[{"x":78.0,"y":-5.4,"s":"(d) Shaking table"}]},"mark":{"type":"text","align":"right","baseline":"alphabetic","fontSize":24,"color":"black"},
    "encoding":{"x":{"field":"x","type":"quantitative","scale":{"domain":[0,80],"nice":false},"axis":{"orient":"top","values":[0,10,20,30,40,50,60,70,80],"labels":false,"title":null}},
     "y":{"field":"y","type":"quantitative","scale":{"domain":[-8,8],"nice":false},"axis":{"values":[-8,0,8],"title":null}},
     "text":{"field":"s"}}}
  ],"resolve":{"axis":{"x":"independent"}}}
 ]},
{"title":{"text":"Shear Force (kN)","orient":"left","anchor":"middle","offset":-4,"dx":19,"fontSize":26},
 "spacing":9,
 "vconcat":[
  {"width":477,"height":100,"layer":[
   {"data":{"name":"sig"},"mark":{"type":"line","color":"black","strokeWidth":1,"clip":true},
    "encoding":{"x":{"field":"t","type":"quantitative","scale":{"domain":[0,80],"nice":false},"axis":{"orient":"bottom","values":[0,10,20,30,40,50,60,70,80],"labels":false,"title":null}},
     "y":{"field":"e","type":"quantitative","scale":{"domain":[-80,80],"nice":false},"axis":{"values":[-80,0,80],"title":null}}}},
   {"data":{"values":[{"x":77.4,"y":-54,"s":"(e) Pile A"}]},"mark":{"type":"text","align":"right","baseline":"alphabetic","fontSize":24,"color":"black"},
    "encoding":{"x":{"field":"x","type":"quantitative","scale":{"domain":[0,80],"nice":false},"axis":{"orient":"top","values":[0,10,20,30,40,50,60,70,80],"labels":false,"title":null}},
     "y":{"field":"y","type":"quantitative","scale":{"domain":[-80,80],"nice":false},"axis":{"values":[-80,0,80],"title":null}},
     "text":{"field":"s"}}}
  ],"resolve":{"axis":{"x":"independent"}}},
  {"width":477,"height":100,"layer":[
   {"data":{"name":"sig"},"mark":{"type":"line","color":"black","strokeWidth":1,"clip":true},
    "encoding":{"x":{"field":"t","type":"quantitative","scale":{"domain":[0,80],"nice":false},"axis":{"orient":"bottom","values":[0,10,20,30,40,50,60,70,80],"labels":false,"title":null}},
     "y":{"field":"f","type":"quantitative","scale":{"domain":[-80,80],"nice":false},"axis":{"values":[-80,0,80],"title":null}}}},
   {"data":{"values":[{"x":77.4,"y":-54,"s":"(f) Pile B"}]},"mark":{"type":"text","align":"right","baseline":"alphabetic","fontSize":24,"color":"black"},
    "encoding":{"x":{"field":"x","type":"quantitative","scale":{"domain":[0,80],"nice":false},"axis":{"orient":"top","values":[0,10,20,30,40,50,60,70,80],"labels":false,"title":null}},
     "y":{"field":"y","type":"quantitative","scale":{"domain":[-80,80],"nice":false},"axis":{"values":[-80,0,80],"title":null}},
     "text":{"field":"s"}}}
  ],"resolve":{"axis":{"x":"independent"}}},
  {"width":477,"height":100,"layer":[
   {"data":{"name":"sig"},"mark":{"type":"line","color":"black","strokeWidth":1,"clip":true},
    "encoding":{"x":{"field":"t","type":"quantitative","scale":{"domain":[0,80],"nice":false},"axis":{"orient":"bottom","values":[0,10,20,30,40,50,60,70,80],"labels":false,"title":null}},
     "y":{"field":"g","type":"quantitative","scale":{"domain":[-80,80],"nice":false},"axis":{"values":[-80,0,80],"title":null}}}},
   {"data":{"values":[{"x":77.4,"y":-54,"s":"(g) Pile C"}]},"mark":{"type":"text","align":"right","baseline":"alphabetic","fontSize":24,"color":"black"},
    "encoding":{"x":{"field":"x","type":"quantitative","scale":{"domain":[0,80],"nice":false},"axis":{"orient":"top","values":[0,10,20,30,40,50,60,70,80],"labels":false,"title":null}},
     "y":{"field":"y","type":"quantitative","scale":{"domain":[-80,80],"nice":false},"axis":{"values":[-80,0,80],"title":null}},
     "text":{"field":"s"}}}
  ],"resolve":{"axis":{"x":"independent"}}},
  {"width":477,"height":100,"layer":[
   {"data":{"name":"sig"},"mark":{"type":"line","color":"black","strokeWidth":1,"clip":true},
    "encoding":{"x":{"field":"t","type":"quantitative","scale":{"domain":[0,80],"nice":false},"axis":{"orient":"bottom","values":[0,10,20,30,40,50,60,70,80],"labels":true,"title":null}},
     "y":{"field":"h","type":"quantitative","scale":{"domain":[-80,80],"nice":false},"axis":{"values":[-80,0,80],"title":null}}}},
   {"data":{"values":[{"x":77.4,"y":-54,"s":"(h) Pile D"}]},"mark":{"type":"text","align":"right","baseline":"alphabetic","fontSize":24,"color":"black"},
    "encoding":{"x":{"field":"x","type":"quantitative","scale":{"domain":[0,80],"nice":false},"axis":{"orient":"top","values":[0,10,20,30,40,50,60,70,80],"labels":false,"title":null}},
     "y":{"field":"y","type":"quantitative","scale":{"domain":[-80,80],"nice":false},"axis":{"values":[-80,0,80],"title":null}},
     "text":{"field":"s"}}}
  ],"resolve":{"axis":{"x":"independent"}}}
 ]}
],
"spacing":-9
}
